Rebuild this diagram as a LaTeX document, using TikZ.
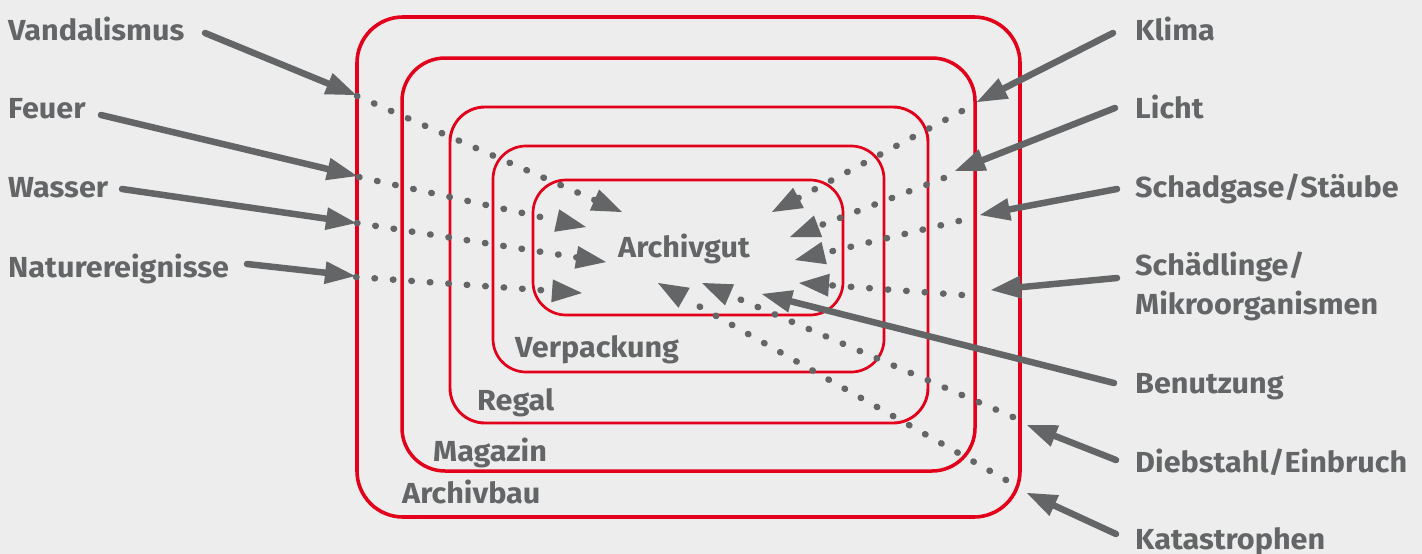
\documentclass[tikz,border=0pt]{standalone}
\usepackage{fontspec}
\setmainfont{Fira Sans}[FakeStretch=1.055]
\usetikzlibrary{arrows.meta}
\definecolor{bg}{RGB}{236,237,236}
\definecolor{ink}{RGB}{100,101,103}
\definecolor{dbred}{RGB}{227,0,27}
\tikzset{
  lbl/.style={anchor=base west, inner sep=0pt, text=ink,
    font=\fontsize{29pt}{39pt}\selectfont\bfseries, align=left},
  shell/.style={draw=dbred},
  tip/.style={-{Triangle[length=30pt,width=23pt,line width=0pt]}},
  threat/.style={tip, draw=ink, line width=6.5pt, line cap=round},
  route/.style={tip, draw=ink, line width=6.5pt, line cap=round,
    dash pattern=on 0.5pt off 18pt},
}
\begin{document}
\begin{tikzpicture}[x=1pt,y=-1pt]
\fill[bg] (0,0) rectangle (1422,554);
\useasboundingbox (0,0) rectangle (1422,554);

% nested protection layers
\draw[shell, line width=3.6pt, rounded corners=46pt] (357,17) rectangle (1020,517);
\draw[shell, line width=3.5pt, rounded corners=43pt] (402,58) rectangle (975,471);
\draw[shell, line width=2.9pt, rounded corners=35pt] (450,107) rectangle (928,423);
\draw[shell, line width=2.7pt, rounded corners=33pt] (493,146) rectangle (884,372);
\draw[shell, line width=2.7pt, rounded corners=33pt] (533,180) rectangle (843,315);

% layer names
\node[lbl] (gut)  at (618,257) {Archivgut};
\node[lbl] (verp) at (515,357) {Verpackung};
\node[lbl] (regal) at (477,410) {Regal};
\node[lbl] (mag)  at (433,461) {Magazin};
\node[lbl] (bau)  at (402,503) {Archivbau};

% threats, left
\node[lbl] (vand)  at (8,40)  {Vandalismus};
\node[lbl] (feuer) at (8,118) {Feuer};
\node[lbl] (wass)  at (8,197) {Wasser};
\node[lbl] (natur) at (8,277) {Naturereignisse};

% threats, right (a two-line node sits on its last baseline)
\node[lbl] (klima)  at (1135,40)  {Klima};
\node[lbl] (licht)  at (1135,118) {Licht};
\node[lbl] (gase)   at (1135,197) {Schadgase/Stäube};
\node[lbl] (schaed) at (1135,314) {Schädlinge/\\Mikroorganismen};
\node[lbl] (benutz) at (1135,393) {Benutzung};
\node[lbl] (dieb)   at (1135,472) {Diebstahl/Einbruch};
\node[lbl] (kata)   at (1135,549) {Katastrophen};

% arrow anchors: start (S), outer tip (T), dotted start (D), inner tip (I)
\coordinate (vandS) at (205,33);  \coordinate (vandT) at (356,95);
\coordinate (vandD) at (357,96);  \coordinate (vandI) at (622,212);
\coordinate (feuS) at (101,115);  \coordinate (feuT) at (357,176);
\coordinate (feuD) at (359,177);  \coordinate (feuI) at (586,227);
\coordinate (wasS) at (122,189);  \coordinate (wasT) at (356,223);
\coordinate (wasD) at (357,223);  \coordinate (wasI) at (606,262);
\coordinate (natS) at (247,264);  \coordinate (natT) at (355,276);
\coordinate (natD) at (356,277);  \coordinate (natI) at (582,293);

\coordinate (kliS) at (1113,33);  \coordinate (kliT) at (977,102);
\coordinate (kliD) at (962,111);  \coordinate (kliI) at (772,212);
\coordinate (licS) at (1115,108); \coordinate (licT) at (955,171);
\coordinate (licD) at (944,178);  \coordinate (licI) at (790,237);
\coordinate (gasS) at (1117,189); \coordinate (gasT) at (980,215);
\coordinate (gasD) at (959,221);  \coordinate (gasI) at (795,260);
\coordinate (scdS) at (1117,278); \coordinate (scdT) at (991,290);
\coordinate (scdD) at (962,295);  \coordinate (scdI) at (799,283);
\coordinate (benS) at (1114,383); \coordinate (benI) at (762,294);
\coordinate (dieS) at (1116,460); \coordinate (dieT) at (1027,425);
\coordinate (dieD) at (1013,417); \coordinate (dieI) at (702,283);
\coordinate (katS) at (1116,534); \coordinate (katT) at (1027,493);
\coordinate (katD) at (1006,480); \coordinate (katI) at (658,283);

% solid arrows from the threats to the outer layers
\foreach \t in {vand,feu,was,nat,kli,lic,gas,scd,die,kat}
  \draw[threat] (\t S) -- (\t T);
\draw[threat] (benS) -- (benI);

% dotted paths through the layers to the archival material
\foreach \t in {vand,feu,was,nat,kli,lic,gas,scd,die,kat}
  \draw[route] (\t D) -- (\t I);
\end{tikzpicture}
\end{document}
